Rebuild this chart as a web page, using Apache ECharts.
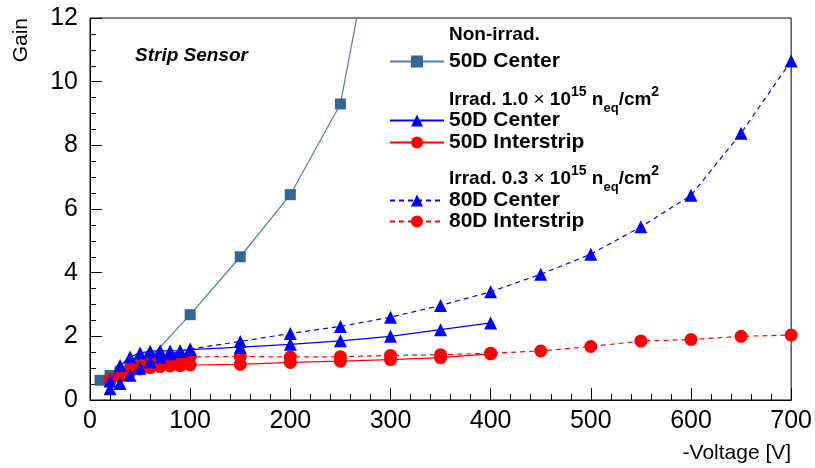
<!DOCTYPE html>
<html>
<head>
<meta charset="utf-8">
<script src="https://cdn.jsdelivr.net/npm/echarts@6/dist/echarts.min.js"></script>
<style>
  html, body { margin: 0; padding: 0; background: #fff; }
  #chart { width: 815px; height: 468px; }
</style>
</head>
<body>
<div id="chart"></div>
<script>
// x: -Voltage [V], y: Gain
const xTicks = [0, 100, 200, 300, 400, 500, 600, 700];
const yTicks = [0, 2, 4, 6, 8, 10, 12];

// non-irradiated, 50D center
const nonIrrVolt = [10, 20, 30, 40, 50, 60, 100, 150, 200, 250, 300];
const nonIrrCenter = [0.62, 0.77, 0.9, 1.02, 1.15, 1.32, 2.68, 4.5, 6.45, 9.3, 17.6];

// irrad. 1.0e15, 50D
const irr10Volt = [20, 30, 40, 50, 60, 70, 80, 90, 100, 150, 200, 250, 300, 350, 400];
const irr10Center = [0.6, 1.08, 1.35, 1.48, 1.53, 1.55, 1.54, 1.55, 1.58, 1.66, 1.75, 1.86, 2.0, 2.21, 2.42];
const irr10Inter = [0.6, 0.75, 0.88, 0.97, 1.02, 1.05, 1.07, 1.08, 1.1, 1.12, 1.18, 1.22, 1.27, 1.33, 1.45];

// irrad. 0.3e15, 80D
const irr03Volt = [20, 30, 40, 50, 60, 70, 80, 90, 100, 150, 200, 250, 300, 350, 400, 450, 500, 550, 600, 650, 700];
const irr03Center = [0.35, 0.52, 0.78, 1.0, 1.2, 1.35, 1.45, 1.52, 1.6, 1.84, 2.09, 2.31, 2.6, 2.97, 3.4, 3.95, 4.58, 5.44, 6.43, 8.38, 10.65];
const irr03Inter = [0.65, 0.85, 0.95, 1.05, 1.15, 1.22, 1.28, 1.32, 1.35, 1.37, 1.35, 1.36, 1.4, 1.42, 1.47, 1.54, 1.68, 1.85, 1.9, 2.0, 2.04];

const font = "'Liberation Sans', Arial, Helvetica, sans-serif";

function pairs(xs, ys) {
  return xs.map((x, i) => [x, ys[i]]);
}

// legend labels (series names must be unique)
const labels = {
  nonCenter: '50D Center',
  c10: '50D Center',
  i10: '50D Interstrip',
  c03: '80D Center',
  i03: '80D Interstrip'
};

function legendBox(names, top, gap) {
  return {
    data: names,
    orient: 'vertical',
    left: 389,
    top: top,
    padding: 0,
    itemGap: gap,
    itemWidth: 54,
    itemHeight: 15,
    selectedMode: false,
    formatter: name => labels[name],
    textStyle: { fontFamily: font, fontSize: 21, fontWeight: 'bold', color: '#000', lineHeight: 20 }
  };
}

// header lines with super/subscripts
const headRich = {
  b: { fontFamily: font, fontSize: 19, fontWeight: 'bold', fill: '#000', lineHeight: 30 },
  x: { fontFamily: font, fontSize: 19, fill: '#000', lineHeight: 30 },
  sup: { fontFamily: font, fontSize: 14, fontWeight: 'bold', fill: '#000', lineHeight: 14, verticalAlign: 'top' },
  sub: { fontFamily: font, fontSize: 13, fontWeight: 'bold', fill: '#000', lineHeight: 20, verticalAlign: 'bottom' }
};

function header(str, top) {
  return {
    type: 'text', left: 449, top: top,
    style: { text: str, rich: headRich }
  };
}

const chart = echarts.init(document.getElementById('chart'));
chart.setOption({
  animation: false,
  backgroundColor: '#fff',
  grid: { left: 90, right: 23, top: 18, bottom: 68, show: true, borderColor: '#000', borderWidth: 1, backgroundColor: 'transparent' },
  xAxis: {
    type: 'value',
    min: xTicks[0], max: xTicks[xTicks.length - 1], interval: xTicks[1] - xTicks[0],
    axisLine: { show: true, lineStyle: { color: '#000', width: 1 } },
    axisTick: { show: true, inside: true, length: 12, lineStyle: { color: '#000' } },
    minorTick: { show: true, splitNumber: 5, length: 6, lineStyle: { color: '#000' } },
    splitLine: { show: false },
    axisLabel: { fontFamily: font, fontSize: 25, color: '#000', margin: 9 },
    name: '-Voltage [V]',
    nameLocation: 'end',
    nameGap: 0,
    nameTextStyle: { fontFamily: font, fontSize: 21, color: '#000', align: 'right', verticalAlign: 'top', padding: [43, 0, 0, 0] }
  },
  yAxis: {
    type: 'value',
    min: yTicks[0], max: yTicks[yTicks.length - 1], interval: yTicks[1] - yTicks[0],
    axisLine: { show: true, lineStyle: { color: '#000', width: 1 } },
    axisTick: { show: true, inside: true, length: 12, lineStyle: { color: '#000' } },
    minorTick: { show: true, splitNumber: 4, length: 6, lineStyle: { color: '#000' } },
    splitLine: { show: false },
    axisLabel: { fontFamily: font, fontSize: 25, color: '#000', margin: 12 }
  },
  legend: [
    legendBox(['nonCenter'], 51, 0),
    legendBox(['c10', 'i10'], 110, 1),
    legendBox(['c03', 'i03'], 190, 0)
  ],
  graphic: [
    { type: 'text', left: 135, top: 46, style: { text: 'Strip Sensor', fontFamily: font, fontSize: 19, fontWeight: 'bold', fontStyle: 'italic', fill: '#000' } },
    { type: 'text', x: 11, y: 18, rotation: Math.PI / 2, style: { text: 'Gain', fontFamily: font, fontSize: 21, fill: '#000', align: 'right', verticalAlign: 'top' } },
    header('{b|Non-irrad.}', 25),
    header('{b|Irrad. 1.0 }{x|×}{b| 10}{sup|15}{b| n}{sub|eq}{b|/cm}{sup|2}', 85),
    header('{b|Irrad. 0.3 }{x|×}{b| 10}{sup|15}{b| n}{sub|eq}{b|/cm}{sup|2}', 164)
  ],
  series: [
    {
      name: 'nonCenter', type: 'line', z: 2, data: pairs(nonIrrVolt, nonIrrCenter),
      symbol: 'rect', symbolSize: 11,
      itemStyle: { color: '#336699' },
      lineStyle: { color: '#4d80b0', width: 1.2 }
    },
    {
      name: 'i10', type: 'line', z: 3, data: pairs(irr10Volt, irr10Inter),
      symbol: 'circle', symbolSize: 13,
      itemStyle: { color: '#ff0000' },
      lineStyle: { color: '#ff0000', width: 1.2 }
    },
    {
      name: 'i03', type: 'line', z: 3, data: pairs(irr03Volt, irr03Inter),
      symbol: 'circle', symbolSize: 13,
      itemStyle: { color: '#ff0000' },
      lineStyle: { color: '#ff0000', width: 1.2, type: [5, 4] }
    },
    {
      name: 'c10', type: 'line', z: 4, data: pairs(irr10Volt, irr10Center),
      symbol: 'triangle', symbolSize: 13,
      itemStyle: { color: '#0000ff' },
      lineStyle: { color: '#0000ff', width: 1.2 }
    },
    {
      name: 'c03', type: 'line', z: 4, data: pairs(irr03Volt, irr03Center),
      symbol: 'triangle', symbolSize: 13,
      itemStyle: { color: '#0000ff' },
      lineStyle: { color: '#0000ff', width: 1.2, type: [5, 4] }
    }
  ]
});
</script>
</body>
</html>
